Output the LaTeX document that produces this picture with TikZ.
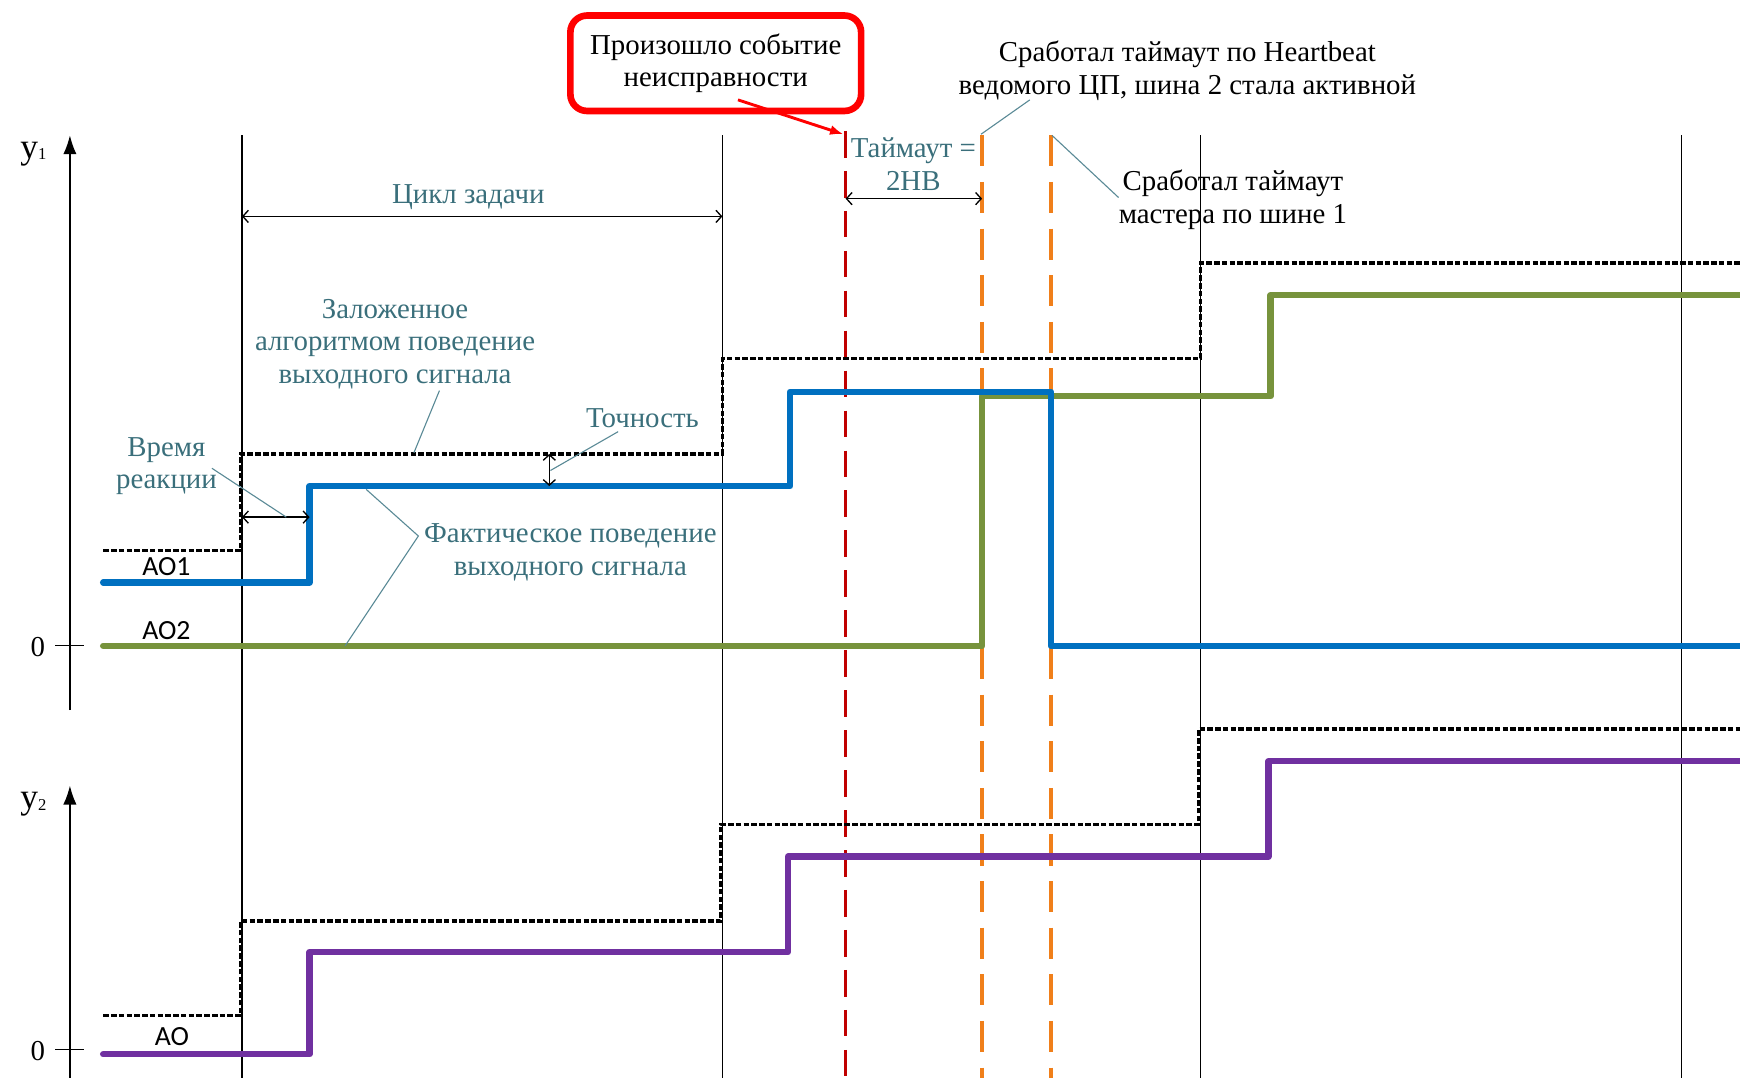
\documentclass[tikz,border=0pt]{standalone}
\usepackage{fontspec}
\setmainfont{Liberation Serif}
\newfontfamily\labelsans{Carlito}
\usetikzlibrary{arrows.meta}
\definecolor{noteteal}{HTML}{3A6F7B}
\definecolor{leader}{HTML}{5A8A96}
\definecolor{aoblue}{HTML}{0070C0}
\definecolor{aogreen}{HTML}{77933C}
\definecolor{aopurple}{HTML}{7030A0}
\definecolor{faultred}{HTML}{C00000}
\definecolor{timeorange}{HTML}{F07F1A}
\tikzset{
  txt/.style={inner sep=0pt, align=center, font=\fontsize{26}{29.5}\selectfont},
  note/.style={txt, text=noteteal},
  plain/.style={txt, text=black},
  sig/.style={inner sep=0pt, font=\labelsans\fontsize{25}{25}\selectfont},
  grid/.style={line width=1.1pt, black},
  axis/.style={line width=1.3pt, -{Latex[length=17pt,width=12pt]}},
  plan/.style={line width=3pt, dash pattern=on 5pt off 2pt},
  real/.style={line width=5.8pt, line join=round, line cap=round},
  dimarrow/.style={line width=1.2pt, {Straight Barb[length=5pt,width=11pt]}-{Straight Barb[length=5pt,width=11pt]}},
  lead/.style={line width=1pt, leader},
  fault/.style={line width=2.6pt, faultred, dash pattern=on 24pt off 12pt},
  tmo/.style={line width=3pt, timeorange, dash pattern=on 28pt off 14pt},
}
\begin{document}
\begin{tikzpicture}[x=1pt,y=-1pt]
\useasboundingbox (0,0) rectangle (1568,971);

% axes
\draw[axis] (63,640) -- (63,122);
\draw[axis] (63,971) -- (63,708);
\node[plain, anchor=base] (y1) at (30,143) {{\fontsize{32}{32}\selectfont y}\raisebox{-1pt}{\fontsize{15}{15}\selectfont 1}};
\node[plain, anchor=base] (y2) at (30,729) {{\fontsize{32}{32}\selectfont y}\raisebox{-1pt}{\fontsize{15}{15}\selectfont 2}};
\draw[line width=1.1pt] (50,582) -- (76,582);
\draw[line width=1.1pt] (50,946) -- (76,946);
\node[plain] (z1) at (34,583) {0};
\node[plain] (z2) at (34,947) {0};

% cycle boundaries
\foreach \xx in {218,651,1082,1515} \draw[grid] (\xx,122) -- (\xx,971);

% fault and timeout markers
\draw[fault] (762,118) -- (762,971);
\draw[tmo] (885,122) -- (885,971);
\draw[tmo] (947,122) -- (947,971);

% planned behaviour (dotted)
\draw[plan] (93,496) -- (217,496) -- (217,409) -- (651,409) -- (651,323) -- (1082,323) -- (1082,237) -- (1568,237);
\draw[plan] (93,915) -- (217,915) -- (217,830) -- (649,830) -- (649,743) -- (1080,743) -- (1080,657) -- (1568,657);

% actual behaviour
\draw[real, aogreen] (93,582) -- (885,582) -- (885,357) -- (1145,357) -- (1145,266) -- (1568,266);
\draw[real, aoblue] (93,525) -- (279,525) -- (279,438) -- (712,438) -- (712,353) -- (947,353) -- (947,582) -- (1568,582);
\draw[real, aopurple] (93,950) -- (279,950) -- (279,858) -- (710,858) -- (710,772) -- (1143,772) -- (1143,686) -- (1568,686);

\node[sig] (ao1) at (150,511) {AO1};
\node[sig] (ao2) at (150,568) {AO2};
\node[sig] (ao) at (155,934) {AO};

% task cycle
\coordinate (c1) at (218,195);
\coordinate (c2) at (651,195);
\draw[dimarrow] (c1) -- (c2);
\node[note] (cycle) at (422,178) {Цикл задачи};

% timeout span
\coordinate (t1) at (762,179);
\coordinate (t2) at (885,179);
\draw[dimarrow] (t1) -- (t2);
\node[note] (timeout) at (823,148) {Таймаут =\\2НВ};

% fault event callout
\node[plain, draw=red, line width=6pt, rounded corners=15pt, minimum width=262pt, minimum height=86pt] (event) at (645,57) {Произошло событие\\неисправности};
\coordinate (evtip) at (760,121);
\draw[red, line width=2.6pt, -{Latex[length=12pt,width=9pt]}] (665,90) -- (evtip);

% heartbeat timeout note
\node[plain] (hb) at (1070,64) {Сработал таймаут по Heartbeat\\ведомого ЦП, шина 2 стала активной};
\coordinate (hbA) at (928,90);
\coordinate (hbB) at (884,121);
\draw[lead] (hbA) -- (hbB);

% master timeout note
\node[plain] (mt) at (1111,180) {Сработал таймаут\\мастера по шине 1};
\coordinate (mtA) at (948,122);
\coordinate (mtB) at (1008,178);
\draw[lead] (mtA) -- (mtB);

% planned behaviour note
\node[note] (planned) at (356,310) {Заложенное\\алгоритмом поведение\\выходного сигнала};
\coordinate (plA) at (396,352);
\coordinate (plB) at (373,408);
\draw[lead] (plA) -- (plB);

% accuracy
\coordinate (acc1) at (495,409);
\coordinate (acc2) at (495,438);
\draw[dimarrow] (acc1) -- (acc2);
\node[note] (accuracy) at (579,377) {Точность};
\coordinate (acA) at (557,389);
\coordinate (acB) at (496,424);
\draw[lead] (acA) -- (acB);

% reaction time
\coordinate (r1) at (218,466);
\coordinate (r2) at (279,466);
\draw[dimarrow] (r1) -- (r2);
\node[note] (reaction) at (150,420) {Время\\реакции};
\coordinate (rA) at (191,422);
\coordinate (rB) at (258,466);
\draw[lead] (rA) -- (rB);

% actual behaviour note
\node[note] (actual) at (514,498) {Фактическое поведение\\выходного сигнала};
\coordinate (acJ) at (377,483);
\coordinate (acUp) at (330,441);
\coordinate (acDn) at (311,582);
\draw[lead] (acUp) -- (acJ) -- (acDn);
\end{tikzpicture}
\end{document}
